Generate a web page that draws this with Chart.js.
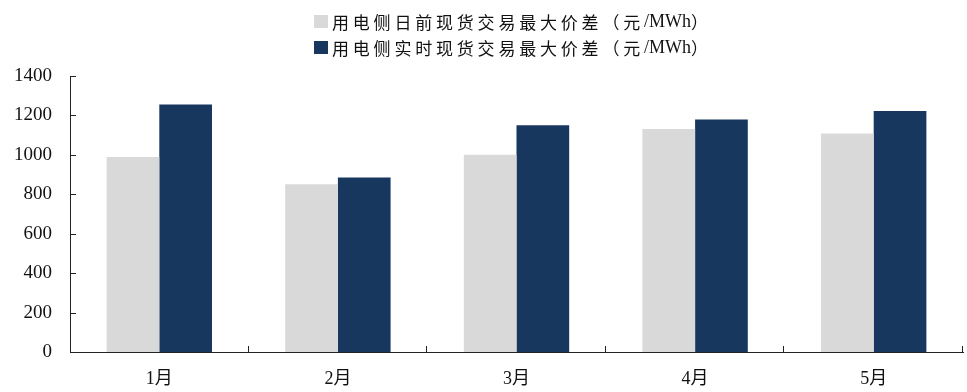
<!DOCTYPE html>
<html>
<head>
<meta charset="utf-8">
<script src="https://cdn.jsdelivr.net/npm/chart.js@4"></script>
<style>
  html, body { margin: 0; padding: 0; background: #fff; }
  #wrap { position: relative; width: 967px; height: 392px; }
  #legend { position: absolute; left: 314px; top: 8px; font-family: 'Liberation Serif', 'Noto Sans CJK SC', serif; font-size: 17px; color: #111; }
  .item { display: flex; align-items: center; height: 26px; white-space: nowrap; }
  .box { width: 14px; height: 13px; margin-right: 4px; flex: none; }
  .cjk { letter-spacing: 3.8px; }
  .lat { letter-spacing: 0; font-size: 18px; }
</style>
</head>
<body>
<div id="wrap">
  <canvas id="c" width="967" height="392"></canvas>
  <div id="legend"></div>
</div>
<script>
const categories = ['1月', '2月', '3月', '4月', '5月'];
const seriesNames = ['用电侧日前现货交易最大价差（元/MWh）', '用电侧实时现货交易最大价差（元/MWh）'];
const dayAheadValues = [989, 851, 1001, 1131, 1108];
const realTimeValues = [1255, 885, 1150, 1179, 1222];
const seriesColors = ['#d9d9d9', '#17375e'];

const fontFamily = "'Liberation Serif', 'Noto Sans CJK SC', serif";
const axisColor = '#222';

const innerTicks = {
  id: 'innerTicks',
  afterDraw(chart) {
    const { ctx, chartArea: { left, right, top, bottom }, scales: { x, y } } = chart;
    ctx.save();
    ctx.strokeStyle = axisColor;
    ctx.lineWidth = 1;
    ctx.beginPath();
    y.ticks.forEach((t, i) => {
      const py = Math.round(y.getPixelForTick(i)) + 0.5;
      ctx.moveTo(left, py);
      ctx.lineTo(left + 6, py);
    });
    for (let i = 0; i < categories.length; i++) {
      const px = Math.round(x.getPixelForValue(i + 0.5)) - 0.5;
      ctx.moveTo(px, bottom);
      ctx.lineTo(px, bottom - 6);
    }
    ctx.stroke();
    ctx.restore();
  }
};

const chart = new Chart(document.getElementById('c'), {
  type: 'bar',
  data: {
    labels: categories,
    datasets: [
      { label: seriesNames[0], data: dayAheadValues, backgroundColor: seriesColors[0] },
      { label: seriesNames[1], data: realTimeValues, backgroundColor: seriesColors[1] }
    ]
  },
  options: {
    responsive: false,
    animation: false,
    categoryPercentage: 0.59,
    barPercentage: 1.0,
    layout: { padding: { top: 76, right: 4, left: 0, bottom: 0 } },
    plugins: {
      legend: { display: false },
      tooltip: { enabled: false }
    },
    scales: {
      x: {
        z: 1,
        grid: { display: false, drawTicks: false },
        border: { display: true, color: axisColor, width: 1 },
        ticks: { color: '#111', font: { family: fontFamily, size: 18 }, padding: 16 },
        afterFit(scale) { scale.height = 40; }
      },
      y: {
        z: 1,
        min: 0,
        max: 1400,
        grid: { display: false, drawTicks: false },
        border: { display: true, color: axisColor, width: 1 },
        ticks: { stepSize: 200, color: '#111', font: { family: fontFamily, size: 19 }, padding: 18,
                 callback: v => String(v) },
        afterFit(scale) { scale.width = 70; }
      }
    }
  },
  plugins: [innerTicks]
});

const legendEl = document.getElementById('legend');
chart.data.datasets.forEach(ds => {
  const item = document.createElement('div');
  item.className = 'item';
  const box = document.createElement('span');
  box.className = 'box';
  box.style.background = ds.backgroundColor;
  item.appendChild(box);
  const runs = ds.label.match(/[\x00-\x7f]+|[^\x00-\x7f]+/g);
  runs.forEach(r => {
    const s = document.createElement('span');
    s.className = /^[\x00-\x7f]+$/.test(r) ? 'lat' : 'cjk';
    s.textContent = r;
    item.appendChild(s);
  });
  legendEl.appendChild(item);
});
</script>
</body>
</html>
